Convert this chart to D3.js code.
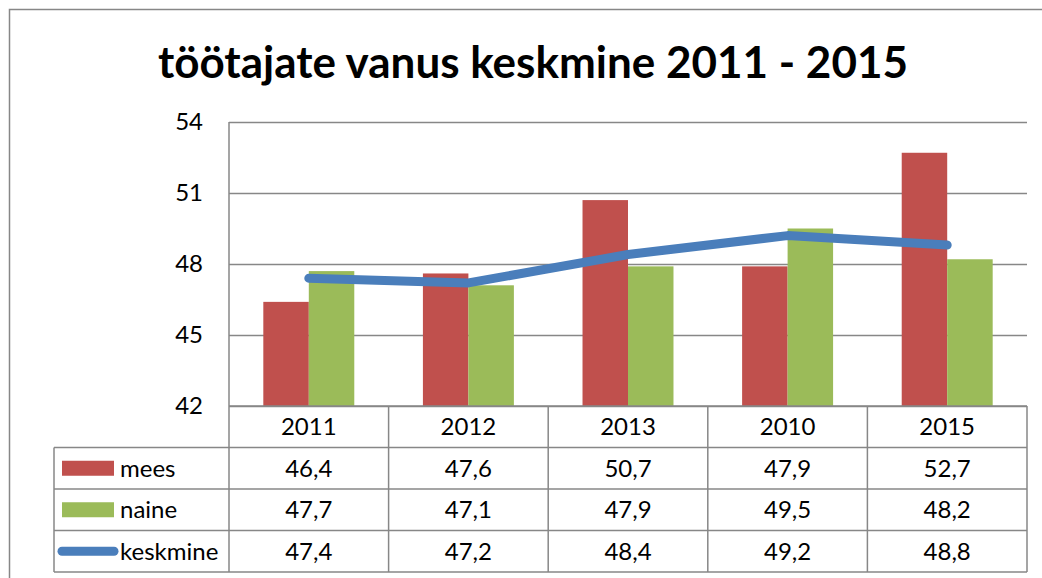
<!DOCTYPE html>
<html>
<head>
<meta charset="utf-8">
<script src="https://cdn.jsdelivr.net/npm/d3@7"></script>
<style>
  body { margin: 0; background: #fff; }
  text { font-family: Lato, "Open Sans", sans-serif; fill: #000; }
</style>
</head>
<body>
<div id="chart"></div>
<script>
// data
const years = ["2011", "2012", "2013", "2010", "2015"];
const mees = [46.4, 47.6, 50.7, 47.9, 52.7];
const naine = [47.7, 47.1, 47.9, 49.5, 48.2];
const keskmine = [47.4, 47.2, 48.4, 49.2, 48.8];
const yTicks = [42, 45, 48, 51, 54];
const seriesNames = ["mees", "naine", "keskmine"];
const colors = {mees: "#c0504d", naine: "#9bbb59", keskmine: "#4a7ebb"};

const W = 1042, H = 578;
const plot = {left: 229, right: 1027, top: 122, bottom: 406};
const legendLeft = 54, tableBottom = 572;
const gridColor = "#878787";

const svg = d3.select("#chart").append("svg")
    .attr("width", W)
    .attr("height", H);

// outer chart frame (runs off the bottom/right of the picture)
svg.append("rect")
    .attr("x", 9.5).attr("y", 9.5)
    .attr("width", 1060).attr("height", 600)
    .attr("fill", "none")
    .attr("stroke", gridColor)
    .attr("stroke-width", 1.5);

// title
svg.append("text")
    .attr("x", 533).attr("y", 78)
    .attr("text-anchor", "middle")
    .style("font-size", "44px")
    .style("font-weight", "bold")
    .text("töötajate vanus keskmine 2011 - 2015");

// scales
let x = d3.scaleBand()
    .domain(years)
    .range([plot.left, plot.right])
    .paddingInner(0.43)
    .paddingOuter(0.215);

let xCol = d3.scaleBand()
    .domain(years)
    .range([plot.left, plot.right]);

let xSub = d3.scaleBand()
    .domain(["mees", "naine"])
    .range([0, x.bandwidth()]);

let y = d3.scaleLinear()
    .domain([42, 54])
    .range([plot.bottom, plot.top]);

// gridlines + y labels
let yAxis = d3.axisLeft(y)
    .tickValues(yTicks)
    .tickSize(plot.left - plot.right)
    .tickPadding(26)
    .tickFormat(d3.format("d"));

let gy = svg.append("g")
    .attr("transform", `translate(${plot.left},0)`)
    .call(yAxis);
gy.select(".domain").remove();
gy.selectAll(".tick line").attr("stroke", gridColor).attr("stroke-width", 1.5);
gy.selectAll(".tick text")
    .style("font-size", "24px")
    .attr("fill", "#000");

// vertical axis line
svg.append("line")
    .attr("x1", plot.left).attr("x2", plot.left)
    .attr("y1", plot.top).attr("y2", tableBottom)
    .attr("stroke", gridColor).attr("stroke-width", 1.5);

// bars
let barData = [];
years.forEach((yr, i) => {
    barData.push({year: yr, key: "mees", value: mees[i]});
    barData.push({year: yr, key: "naine", value: naine[i]});
});

svg.selectAll(".bars")
    .data(barData)
    .enter()
    .append("rect")
    .attr("class", "bars")
    .attr("x", d => x(d.year) + xSub(d.key))
    .attr("y", d => y(d.value))
    .attr("width", xSub.bandwidth())
    .attr("height", d => plot.bottom - y(d.value))
    .attr("fill", d => colors[d.key]);

// average line
let line = d3.line()
    .x((d, i) => x(years[i]) + x.bandwidth() / 2)
    .y(d => y(d));

svg.append("path")
    .datum(keskmine)
    .attr("d", line)
    .attr("fill", "none")
    .attr("stroke", colors.keskmine)
    .attr("stroke-width", 9)
    .attr("stroke-linecap", "round")
    .attr("stroke-linejoin", "round");

// data table
let rows = d3.scaleBand()
    .domain(["header"].concat(seriesNames))
    .range([plot.bottom, tableBottom]);

let tableLines = svg.append("g").attr("class", "table-lines")
    .attr("stroke", gridColor).attr("stroke-width", 1.5);

// horizontal lines
tableLines.append("line")
    .attr("x1", plot.left).attr("x2", plot.right)
    .attr("y1", plot.bottom).attr("y2", plot.bottom);
seriesNames.forEach(s => {
    tableLines.append("line")
        .attr("x1", legendLeft).attr("x2", plot.right)
        .attr("y1", rows(s)).attr("y2", rows(s));
});
tableLines.append("line")
    .attr("x1", legendLeft).attr("x2", plot.right)
    .attr("y1", tableBottom).attr("y2", tableBottom);

// vertical lines
years.forEach(yr => {
    tableLines.append("line")
        .attr("x1", xCol(yr) + xCol.bandwidth()).attr("x2", xCol(yr) + xCol.bandwidth())
        .attr("y1", plot.bottom).attr("y2", tableBottom);
});
tableLines.append("line")
    .attr("x1", legendLeft).attr("x2", legendLeft)
    .attr("y1", rows("mees")).attr("y2", tableBottom);

// header years
svg.selectAll(".year-label")
    .data(years)
    .enter()
    .append("text")
    .attr("class", "year-label")
    .attr("x", d => xCol(d) + xCol.bandwidth() / 2)
    .attr("y", rows("header") + rows.bandwidth() / 2)
    .attr("dy", "0.36em")
    .attr("text-anchor", "middle")
    .style("font-size", "24px")
    .text(d => d);

// value cells
const seriesValues = {mees: mees, naine: naine, keskmine: keskmine};
const fmt = v => d3.format(".1f")(v).replace(".", ",");

seriesNames.forEach(s => {
    let ry = rows(s) + rows.bandwidth() / 2;

    svg.selectAll(".cell-" + s)
        .data(seriesValues[s])
        .enter()
        .append("text")
        .attr("class", "cell-" + s)
        .attr("x", (d, i) => xCol(years[i]) + xCol.bandwidth() / 2)
        .attr("y", ry)
        .attr("dy", "0.36em")
        .attr("text-anchor", "middle")
        .style("font-size", "24px")
        .text(d => fmt(d));

    // legend key
    if (s === "keskmine") {
        svg.append("line")
            .attr("x1", 62).attr("x2", 114)
            .attr("y1", ry).attr("y2", ry)
            .attr("stroke", colors[s])
            .attr("stroke-width", 9)
            .attr("stroke-linecap", "round");
    } else {
        svg.append("rect")
            .attr("x", 62).attr("y", ry - 7.5)
            .attr("width", 52).attr("height", 15)
            .attr("fill", colors[s]);
    }

    svg.append("text")
        .attr("x", 120)
        .attr("y", ry)
        .attr("dy", "0.36em")
        .style("font-size", "24px")
        .text(s);
});
</script>
</body>
</html>
